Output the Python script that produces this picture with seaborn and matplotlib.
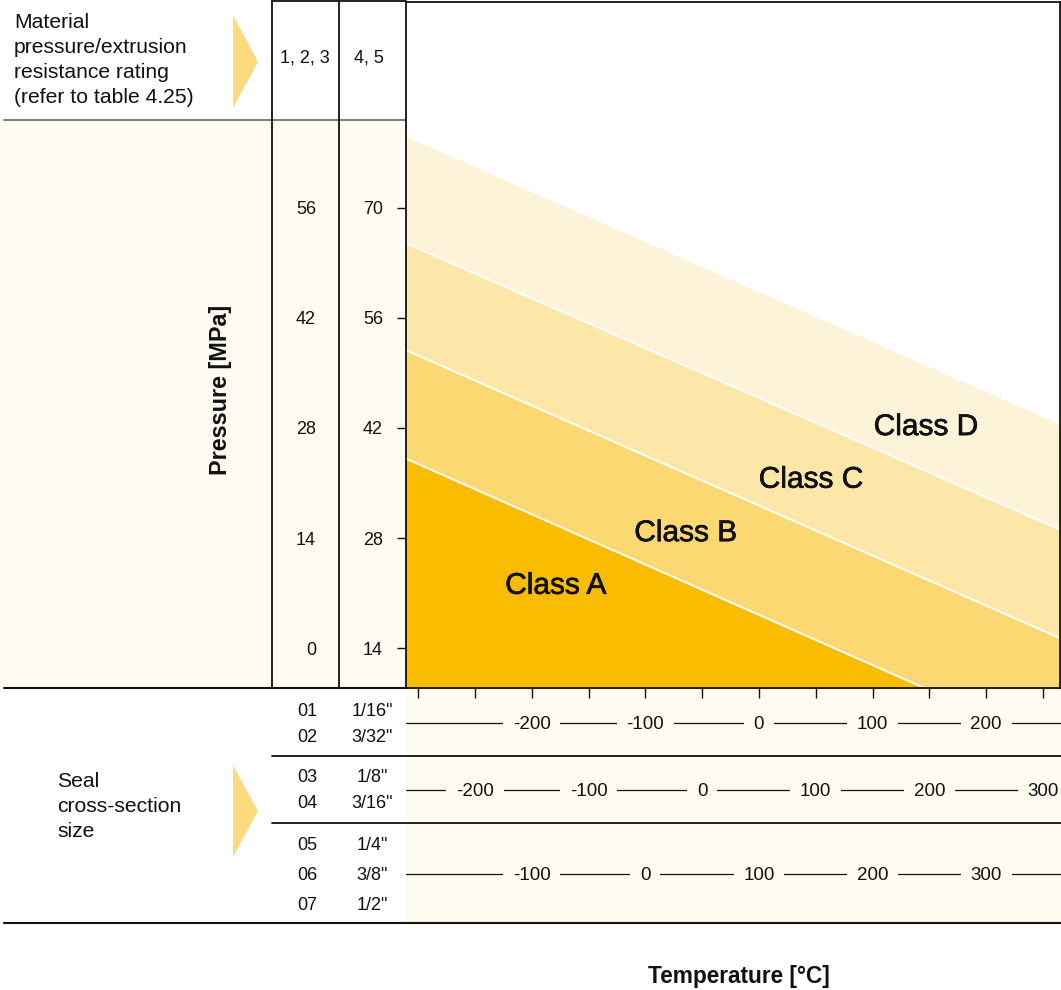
import matplotlib
matplotlib.use('Agg')
import matplotlib.pyplot as plt
import matplotlib.transforms as mtransforms
import matplotlib.patheffects as pe
from matplotlib.patches import Polygon, Rectangle
import seaborn as sns

# ---------------- data ----------------
TEMP_EDGES = [-320, 280]          # °C (scale of sizes 01/02) where class boundaries are sampled
CLASS_D_TOP = [79.7, 41.5]        # MPa on the "4, 5" rating scale
BOUND_CD = [66.1, 28.1]
BOUND_BC = [52.5, 14.3]
BOUND_AB = [38.7, 0.3]
CLASS_NAMES = ['Class A', 'Class B', 'Class C', 'Class D']
CLASS_LABEL_T = [-178.8, -64.4, 45.8, 147.0]
CLASS_LABEL_P = [20.9, 27.6, 34.4, 41.1]
CLASS_COLORS = ['#F9BC00', '#FBD872', '#FCE6A8', '#FDF3D9']

PRESSURE_TICKS_45 = [14, 28, 42, 56, 70]
PRESSURE_TICKS_123 = [0, 14, 28, 42, 56]
RATING_OFFSET = 14
RATING_COLUMNS = ['1, 2, 3', '4, 5']

TEMP_TICKS = [-300, -250, -200, -150, -100, -50, 0, 50, 100, 150, 200, 250]
ROW_LABELS = [[-200, -100, 0, 100, 200],
              [-200, -100, 0, 100, 200, 300],
              [-100, 0, 100, 200, 300]]
ROW_SHIFTS = [0, 50, 100]

SIZE_CODES = ['01', '02', '03', '04', '05', '06', '07']
SIZE_INCH = ['1/16"', '3/32"', '1/8"', '3/16"', '1/4"', '3/8"', '1/2"']

HEADER_TEXT = 'Material\npressure/extrusion\nresistance rating\n(refer to table 4.25)'
SEAL_TEXT = 'Seal\ncross-section\nsize'

# ---------------- style ----------------
sns.set_theme(style='white')
plt.rcParams['font.family'] = ['Liberation Sans', 'DejaVu Sans']
CREAM = '#FEFCF0'
TRI = '#FDDA80'
INK = '#111111'

W, H = 1061, 990
fig = plt.figure(figsize=(W / 100, H / 100), dpi=100)
fig.patch.set_facecolor('white')

# layout layer in pixel units
bg = fig.add_axes([0, 0, 1, 1], zorder=0)
bg.set_xlim(0, W)
bg.set_ylim(H, 0)
bg.axis('off')

bg.add_patch(Rectangle((0, 120), 406, 568, fc=CREAM, ec='none'))
bg.add_patch(Rectangle((406, 688), 655, 235, fc=CREAM, ec='none'))
bg.plot([4, 406], [120, 120], color='#666666', lw=1.2)
for xv in [272, 339]:
    bg.plot([xv, xv], [0, 688], color=INK, lw=1.3)
bg.plot([272, 406], [1, 1], color=INK, lw=1.3)
bg.plot([4, W], [688, 688], color=INK, lw=1.5)
bg.plot([272, W], [756, 756], color=INK, lw=1.3)
bg.plot([272, W], [823, 823], color=INK, lw=1.3)
bg.plot([4, W], [923, 923], color=INK, lw=1.5)
ROW_Y = [723, 790, 874]
for yv in ROW_Y:
    bg.plot([406, W], [yv, yv], color=INK, lw=0.9)

bg.add_patch(Polygon([[233, 15], [233, 108], [258, 62]], fc=TRI, ec='none'))
bg.add_patch(Polygon([[233, 765], [233, 857], [258, 811]], fc=TRI, ec='none'))

bg.text(14, 13, HEADER_TEXT, ha='left', va='top', fontsize=15.2, color=INK, linespacing=1.40)
bg.text(57, 772, SEAL_TEXT, ha='left', va='top', fontsize=15.2, color=INK, linespacing=1.40)
bg.text(305, 58, RATING_COLUMNS[0], ha='center', va='center', fontsize=13, color=INK)
bg.text(369, 58, RATING_COLUMNS[1], ha='center', va='center', fontsize=13, color=INK)

SIZE_Y = [711.5, 737.5, 778, 804, 846, 875, 905]
for code, inch, yv in zip(SIZE_CODES, SIZE_INCH, SIZE_Y):
    bg.text(307, yv, code, ha='center', va='center', fontsize=13, color=INK)
    bg.text(372, yv, inch, ha='center', va='center', fontsize=13, color=INK)

bg.text(220, 390, 'Pressure [MPa]', rotation=90, ha='center', va='center',
        fontsize=16.8, fontweight='bold', color=INK)
bg.text(739, 976, 'Temperature [°C]', ha='center', va='center',
        fontsize=16.3, fontweight='bold', color=INK)

# ---------------- main chart ----------------
ax = fig.add_axes([406 / W, (H - 688) / H, (1060 - 406) / W, (688 - 1.5) / H], zorder=2)
ax.set_facecolor('white')
ax.set_xlim(-310.6, 264.9)
ax.set_ylim(8.91, 96.28)

bands = [([-40, -40], BOUND_AB), (BOUND_AB, BOUND_BC), (BOUND_BC, BOUND_CD), (BOUND_CD, CLASS_D_TOP)]
for (lo, hi), col in zip(bands, CLASS_COLORS):
    ax.fill_between(TEMP_EDGES, lo, hi, color=col, lw=0)
for bound in [BOUND_AB, BOUND_BC, BOUND_CD]:
    sns.lineplot(x=TEMP_EDGES, y=bound, ax=ax, color='white', lw=1.4)

for name, tx, py in zip(CLASS_NAMES, CLASS_LABEL_T, CLASS_LABEL_P):
    ax.text(tx, py, name, ha='center', va='baseline', fontsize=21.5, color=INK,
            path_effects=[pe.withStroke(linewidth=0.5, foreground=INK)])

for s in ax.spines.values():
    s.set_visible(True)
    s.set_color(INK)
    s.set_linewidth(1.3)

ax.set_xticks(TEMP_TICKS)
ax.tick_params(axis='x', bottom=True, direction='out', length=7.2, width=1.0,
               color=INK, labelbottom=False)
ax.set_yticks(PRESSURE_TICKS_45)
ax.tick_params(axis='y', left=True, direction='out', length=6.2, width=1.0, color=INK,
               pad=10.3, labelsize=13, labelcolor=INK)
ax.set_xlabel('')
ax.set_ylabel('')

sec = ax.secondary_yaxis('left', functions=(lambda p: p - RATING_OFFSET,
                                            lambda p: p + RATING_OFFSET))
sec.set_yticks(PRESSURE_TICKS_123)
sec.tick_params(axis='y', length=0, pad=64.8, labelsize=13, labelcolor=INK)
sec.spines['left'].set_visible(False)

# temperature scales for the three cross-section groups
blend = mtransforms.blended_transform_factory(ax.transData, bg.transData)
for labels, shift, yv in zip(ROW_LABELS, ROW_SHIFTS, ROW_Y):
    for v in labels:
        ax.text(v - shift, yv + 6, str(v), transform=blend, ha='center', va='baseline',
                fontsize=13.5, color=INK, clip_on=False, zorder=5,
                bbox=dict(fc=CREAM, ec='none', pad=7))

fig.savefig('out.png', dpi=100)
